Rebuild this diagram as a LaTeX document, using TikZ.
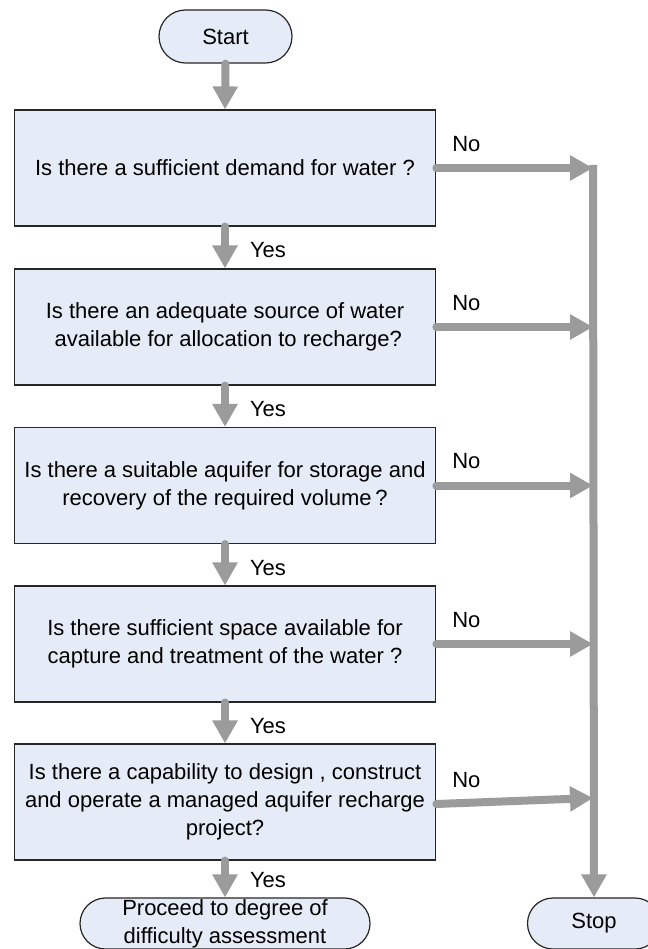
\documentclass[tikz,border=0pt]{standalone}
\usepackage{fontspec}
\setmainfont{Liberation Sans}
\usetikzlibrary{arrows.meta,shapes.misc}
\definecolor{boxfill}{RGB}{230,236,247}
\definecolor{arrgray}{RGB}{155,155,155}
\begin{document}
\begin{tikzpicture}[x=1pt,y=-1pt,
  txt/.style={font=\fontsize{22}{28}\selectfont},
  box/.style={txt, draw=black!85, line width=1.2pt, fill=boxfill, minimum width=421.5pt, minimum height=116pt, align=center, inner sep=0pt},
  term/.style={txt, draw=black!85, line width=1.2pt, fill=boxfill, rounded rectangle, align=center, inner sep=0pt},
  arr/.style={draw=arrgray, line width=8pt, line cap=round, -{Triangle[width=24pt,length=23pt]}},
  lbl/.style={txt, inner sep=0pt, anchor=west}]
\fill[white] (0,0) rectangle (647,949);
\useasboundingbox (0,0) rectangle (647,949);

\node[term, minimum width=133pt, minimum height=53pt] (start) at (225.5,36.5) {Start};
\node[box] (b1) at (225,168) {Is there a sufficient demand for water ?};
\node[box] (b2) at (225,327) {Is there an adequate source of water\\ \hspace*{0.3em}available for allocation to recharge?};
\node[box] (b3) at (225,485.5) {Is there a suitable aquifer for storage and\\recovery of the required volume\,?};
\node[box] (b4) at (225,644) {Is there sufficient space available for\\capture and treatment of the water ?};
\node[box] (b5) at (225,802) {Is there a capability to design , construct\\and operate a managed aquifer recharge\\project?};
\node[term, minimum width=290pt, minimum height=51pt] (proc) at (225,923.5) {Proceed to degree of\\difficulty assessment};
\node[term, minimum width=133pt, minimum height=51pt] (stop) at (594,923.5) {Stop};

\coordinate (v0) at (593,165);
\coordinate (j1) at (593,168);
\coordinate (j2) at (593,327);
\coordinate (j3) at (593,485.5);
\coordinate (j4) at (593,644);
\coordinate (j5) at (593,798);

\draw[arr] (start.south) -- (b1.north);
\draw[arr] (b1.south) -- (b2.north) node[lbl, midway, xshift=21pt, yshift=-3pt] {Yes};
\draw[arr] (b2.south) -- (b3.north) node[lbl, midway, xshift=21pt, yshift=-3pt] {Yes};
\draw[arr] (b3.south) -- (b4.north) node[lbl, midway, xshift=21pt, yshift=-3pt] {Yes};
\draw[arr] (b4.south) -- (b5.north) node[lbl, midway, xshift=21pt, yshift=-3pt] {Yes};
\draw[arr] (b5.south) -- (proc.north) node[lbl, midway, xshift=21pt, yshift=-1pt] {Yes};

\draw[arr, line cap=butt] (v0) -- (stop.north);
\draw[arr] (b1.east) -- (j1) node[lbl, pos=0, xshift=12pt, yshift=24pt] {No};
\draw[arr] (b2.east) -- (j2) node[lbl, pos=0, xshift=12pt, yshift=24pt] {No};
\draw[arr] (b3.east) -- (j3) node[lbl, pos=0, xshift=12pt, yshift=24pt] {No};
\draw[arr] (b4.east) -- (j4) node[lbl, pos=0, xshift=12pt, yshift=24pt] {No};
\draw[arr] ([yshift=-2pt]b5.east) -- (j5) node[lbl, pos=0, xshift=12pt, yshift=24pt] {No};
\end{tikzpicture}
\end{document}
